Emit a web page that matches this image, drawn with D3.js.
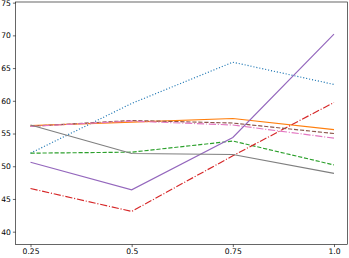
<!DOCTYPE html>
<html lang="en">
<head>
  <meta charset="utf-8">
  <script src="https://cdn.jsdelivr.net/npm/d3@7"></script>
  <style>
    body{margin:0;background:#fff;}
    text{font-family:"DejaVu Sans",sans-serif;font-size:7.6px;fill:#000;}
  </style>
</head>
<body>
  <div id="chart"></div>
  <script type="text/javascript">
    var xs=[0.25,0.5,0.75,1.0];
    var xTicks=[0.25,0.5,0.75,1.0];
    var yTicks=[40,45,50,55,60,65,70,75];

    // one array per line, in draw order
    var blue  =[52.0,59.6,65.9,62.5];
    var orange=[56.2,56.75,57.3,55.6];
    var green =[52.0,52.15,53.85,50.2];
    var red   =[46.6,43.1,51.6,59.75];
    var purple=[50.6,46.4,54.4,70.2];
    var brown =[56.1,57.0,56.6,55.0];
    var pink  =[56.1,56.9,56.3,54.3];
    var gray  =[56.3,51.95,51.8,48.9];

    var lines=[
      {v:blue,  c:"#1f77b4",dash:"1.1,1.9"},
      {v:orange,c:"#ff7f0e",dash:null},
      {v:green, c:"#2ca02c",dash:"4.2,1.8"},
      {v:red,   c:"#d62728",dash:"7.2,1.8,1.1,1.8"},
      {v:purple,c:"#9467bd",dash:null},
      {v:brown, c:"#8c564b",dash:"4.2,1.8"},
      {v:pink,  c:"#e377c2",dash:"7.2,1.8,1.1,1.8"},
      {v:gray,  c:"#7f7f7f",dash:null}
    ];

    var width=349,height=258;
    var mLeft=15.5,mRight=347.5,mTop=2,mBottom=244.5;

    var svg=d3.select("#chart").append("svg")
      .attr("width",width)
      .attr("height",height);

    var x=d3.scaleLinear().domain([0.2129,1.0334]).range([mLeft,mRight]);
    var y=d3.scaleLinear().domain([38.04,75.1]).range([mBottom,mTop]);

    var line=d3.line()
      .x(function(d,i){return x(xs[i]);})
      .y(function(d){return y(d);});

    svg.append("g")
      .selectAll("path")
      .data(lines)
      .enter()
      .append("path")
      .attr("d",function(d){return line(d.v);})
      .attr("fill","none")
      .attr("stroke",function(d){return d.c;})
      .attr("stroke-width",1.15)
      .attr("stroke-dasharray",function(d){return d.dash;});

    //frame
    svg.append("rect")
      .attr("x",mLeft)
      .attr("y",mTop)
      .attr("width",mRight-mLeft)
      .attr("height",mBottom-mTop)
      .attr("fill","none")
      .attr("stroke","#000")
      .attr("stroke-width",0.6);

    var xAxis=d3.axisBottom(x)
      .tickValues(xTicks)
      .tickFormat(function(d){return d==1?"1.0":String(d);})
      .tickSize(2.6)
      .tickPadding(2);
    var gx=svg.append("g")
      .attr("transform","translate(0,"+mBottom+")")
      .call(xAxis);
    gx.select(".domain").remove();
    gx.selectAll("line").attr("stroke-width",0.6);
    gx.selectAll("text").style("font-size","7.6px");

    var yAxis=d3.axisLeft(y)
      .tickValues(yTicks)
      .tickSize(2.6)
      .tickPadding(2);
    var gy=svg.append("g")
      .attr("transform","translate("+mLeft+",0)")
      .call(yAxis);
    gy.select(".domain").remove();
    gy.selectAll("line").attr("stroke-width",0.6);
    gy.selectAll("text").style("font-size","7.6px");
  </script>
</body>
</html>
